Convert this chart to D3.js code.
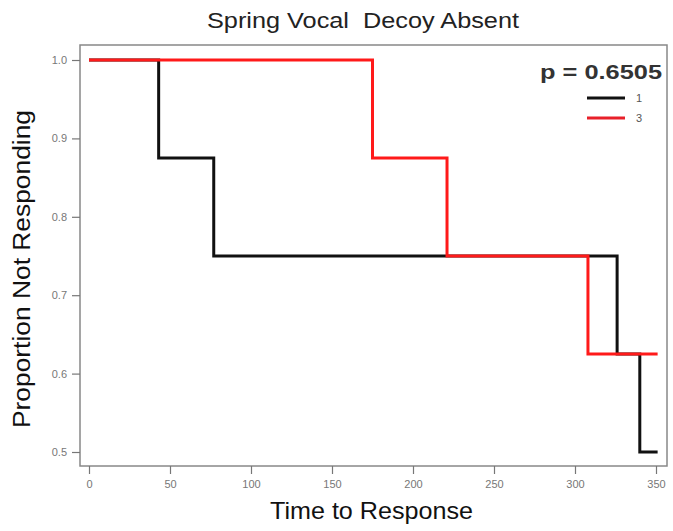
<!DOCTYPE html>
<html>
<head>
<meta charset="utf-8">
<script src="https://cdn.jsdelivr.net/npm/d3@7"></script>
<style>
  body { margin: 0; background: #fff; }
  text { font-family: Arial, "Liberation Sans", sans-serif; }
</style>
</head>
<body>
<script>
// data
var group1Times = [0, 43, 77, 326, 340, 351];
var group1Surv  = [1.0, 0.875, 0.75, 0.625, 0.5, 0.5];
var group3Times = [0, 175, 221, 308, 351];
var group3Surv  = [1.0, 0.875, 0.75, 0.625, 0.625];
var xTicks = [0, 50, 100, 150, 200, 250, 300, 350];
var yTicks = [0.5, 0.6, 0.7, 0.8, 0.9, 1.0];

var width = 673, height = 531;

var svg = d3.select("body").append("svg")
  .attr("width", width)
  .attr("height", height);

var x = d3.scaleLinear().domain([0, 350]).range([89, 656]);
var y = d3.scaleLinear().domain([0.5, 1.0]).range([452, 60]);

// plot box
svg.append("rect")
  .attr("x", 80).attr("y", 45)
  .attr("width", 587).attr("height", 421)
  .attr("fill", "none")
  .attr("stroke", "#888")
  .attr("stroke-width", 1.5);

// axes
var xAxis = svg.append("g")
  .attr("transform", "translate(0,466)")
  .call(d3.axisBottom(x).tickValues(xTicks).tickSize(8).tickPadding(6));
var yAxis = svg.append("g")
  .attr("transform", "translate(80,0)")
  .call(d3.axisLeft(y).tickValues(yTicks).tickSize(8).tickPadding(5).tickFormat(d3.format(".1f")));

[xAxis, yAxis].forEach(function(a) {
  a.select(".domain").remove();
  a.selectAll("line").attr("stroke", "#777").attr("stroke-width", 1.2);
  a.selectAll("text").attr("fill", "#777").style("font-size", "11px");
});

// step lines (red drawn last, it sits on top in the original)
var line = d3.line()
  .x(function(d) { return x(d[0]); })
  .y(function(d) { return y(d[1]); })
  .curve(d3.curveStepAfter);

svg.append("path")
  .datum(d3.zip(group1Times, group1Surv))
  .attr("d", line)
  .attr("fill", "none")
  .attr("stroke", "#111")
  .attr("stroke-width", 3);

svg.append("path")
  .datum(d3.zip(group3Times, group3Surv))
  .attr("d", line)
  .attr("fill", "none")
  .attr("stroke", "#ff1a1a")
  .attr("stroke-width", 3);

// titles
svg.append("text")
  .attr("x", 207).attr("y", 28)
  .attr("textLength", 312)
  .attr("lengthAdjust", "spacingAndGlyphs")
  .style("font-size", "22px")
  .style("white-space", "pre")
  .attr("fill", "#222")
  .text("Spring Vocal  Decoy Absent");

svg.append("text")
  .attr("x", 270).attr("y", 519)
  .attr("textLength", 203)
  .attr("lengthAdjust", "spacingAndGlyphs")
  .style("font-size", "24px")
  .attr("fill", "#111")
  .text("Time to Response");

svg.append("text")
  .attr("transform", "translate(30,428) rotate(-90)")
  .attr("textLength", 318)
  .attr("lengthAdjust", "spacingAndGlyphs")
  .style("font-size", "23px")
  .attr("fill", "#111")
  .text("Proportion Not Responding");

// legend
svg.append("text")
  .attr("x", 540).attr("y", 79)
  .attr("textLength", 122)
  .attr("lengthAdjust", "spacingAndGlyphs")
  .style("font-size", "21px")
  .style("font-weight", "bold")
  .attr("fill", "#333")
  .text("p = 0.6505");

var legend = [["1", "#111"], ["3", "#e8202a"]];
legend.forEach(function(l, i) {
  svg.append("line")
    .attr("x1", 587).attr("x2", 625)
    .attr("y1", 98 + i * 20).attr("y2", 98 + i * 20)
    .attr("stroke", l[1]).attr("stroke-width", 3);
  svg.append("text")
    .attr("x", 636).attr("y", 102 + i * 20)
    .style("font-size", "11px")
    .attr("fill", "#555")
    .text(l[0]);
});
</script>
</body>
</html>
